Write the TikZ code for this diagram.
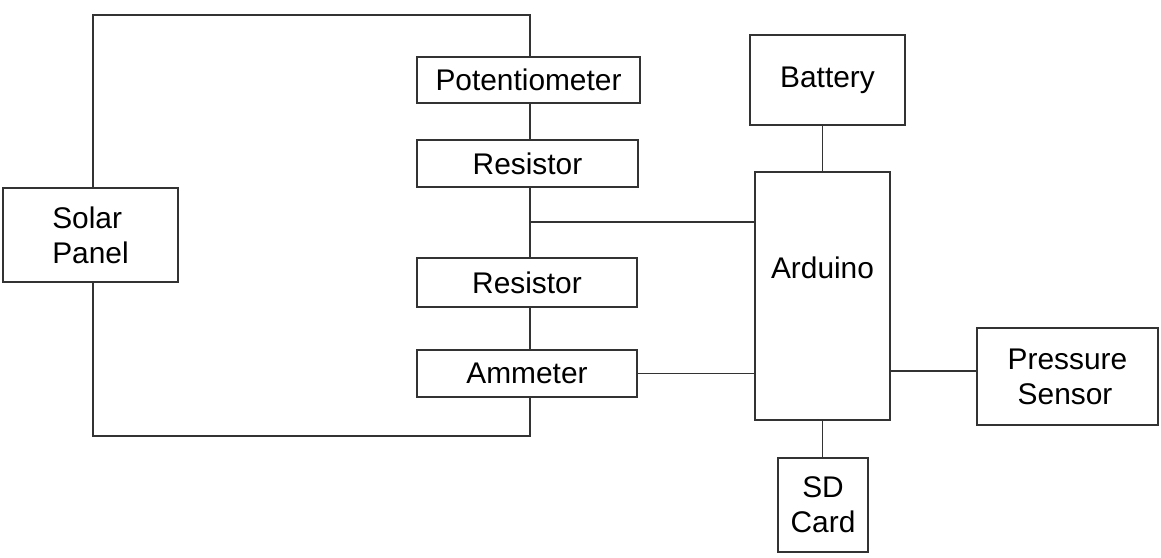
\documentclass[tikz,border=0pt]{standalone}
\usepackage{fontspec}
\setmainfont{Liberation Sans}
\begin{document}
\begin{tikzpicture}[x=0.02cm,y=-0.02cm,
  box/.style={draw=black!80,line width=1pt,inner sep=0pt,font=\fontsize{17}{20}\selectfont},
  wire/.style={draw=black!80,line width=1pt}]
\useasboundingbox (0,0) rectangle (1161,558);
\node[box,minimum width=175*0.02cm,minimum height=94*0.02cm,align=left] (solar) at (90.5,235) {Solar\\Panel};
\node[box,minimum width=223*0.02cm,minimum height=46*0.02cm] (pot) at (528.5,80) {Potentiometer};
\node[box,minimum width=221*0.02cm,minimum height=47*0.02cm] (r1) at (527.5,163.5) {Resistor};
\node[box,minimum width=220*0.02cm,minimum height=49*0.02cm] (r2) at (527,282.5) {Resistor};
\node[box,minimum width=220*0.02cm,minimum height=47*0.02cm] (amm) at (527,373.5) {Ammeter};
\node[box,minimum width=155*0.02cm,minimum height=90*0.02cm] (bat) at (827.5,80) {Battery};
\node[box,minimum width=135*0.02cm,minimum height=248*0.02cm] (ard) at (822.5,296) {};
\node[font=\fontsize{17}{20}\selectfont] (ardtxt) at (822.5,268) {Arduino};
\node[box,minimum width=181*0.02cm,minimum height=97*0.02cm,align=left] (ps) at (1067.5,376.5) {Pressure\\\hspace{0.2cm}Sensor};
\node[box,minimum width=90*0.02cm,minimum height=94*0.02cm,align=center] (sd) at (823,505) {SD\\Card};
\coordinate (tl) at (93,15);
\coordinate (tr) at (530,15);
\coordinate (bl) at (93,436);
\coordinate (br) at (530,436);
\coordinate (j) at (530,222);
\draw[wire] (solar.north -| tl) -- (tl) -- (tr) -- (pot.north -| tr);
\draw[wire] (solar.south -| bl) -- (bl) -- (br) -- (amm.south -| br);
\draw[wire] (pot.south -| tr) -- (r1.north -| tr);
\draw[wire] (r1.south -| tr) -- (r2.north -| tr);
\draw[wire] (r2.south -| tr) -- (amm.north -| tr);
\draw[wire] (j) -- (j -| ard.west);
\draw[wire] (amm.east) -- (amm.east -| ard.west);
\draw[wire] (bat.south -| ard.north) -- (ard.north);
\draw[wire] (ps.west |- 0,371) coordinate (psw) -- (psw -| ard.east);
\draw[wire] (ard.south) -- (sd.north -| ard.south);
\end{tikzpicture}
\end{document}
